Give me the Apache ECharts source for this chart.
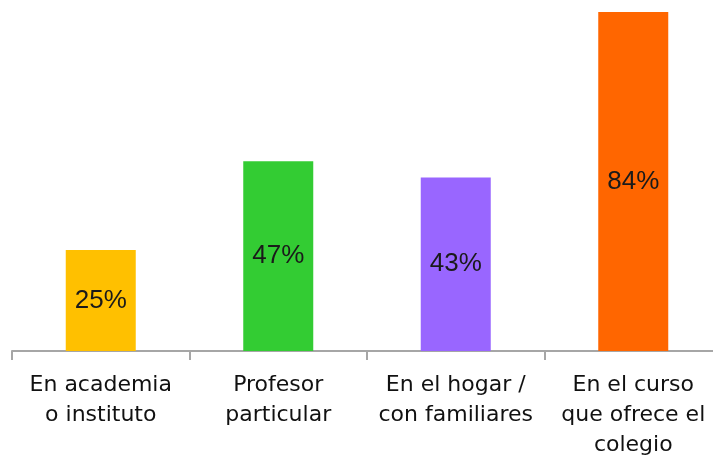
<!DOCTYPE html>
<html lang="es">
<head>
    <meta charset="UTF-8">
    <title></title>
    <style>
        html, body { margin: 0; padding: 0; background: #fff; }
        #chart { width: 713px; height: 458px; }
    </style>
</head>
<body>
<div id="chart"></div>
<script src="https://cdn.jsdelivr.net/npm/echarts@6/dist/echarts.min.js"></script>
<script>
    // datos
    var categories = ['En academia\no instituto', 'Profesor\nparticular', 'En el hogar /\ncon familiares', 'En el curso\nque ofrece el\ncolegio'];
    var values = [25, 47, 43, 84];
    var barColors = ['#FFC000', '#33CC33', '#9966FF', '#FF6600'];

    var myChart = echarts.init(document.getElementById('chart'));
    var option = {
        animation: false,
        grid: {
            left: 12,
            right: -9,
            top: 12,
            bottom: 107,
            outerBoundsMode: 'none'
        },
        xAxis: {
            type: 'category',
            data: categories,
            axisLine: { lineStyle: { color: '#a6a6a6', width: 2 } },
            axisTick: { show: true, length: 9, lineStyle: { color: '#a6a6a6', width: 2 } },
            axisLabel: {
                interval: 0,
                margin: 19,
                color: '#111',
                fontFamily: 'DejaVu Sans, sans-serif',
                fontSize: 22,
                lineHeight: 30
            }
        },
        yAxis: {
            type: 'value',
            min: 0,
            max: 84,
            show: false,
            splitLine: { show: false }
        },
        series: [{
            type: 'bar',
            barWidth: 70,
            data: values.map(function (v, i) {
                return { value: v, itemStyle: { color: barColors[i] } };
            }),
            label: {
                show: true,
                position: 'inside',
                formatter: '{c}%',
                color: '#1a1a1a',
                fontFamily: 'Liberation Sans, Arial, sans-serif',
                fontSize: 26
            }
        }]
    };
    myChart.setOption(option);
</script>
</body>
</html>
